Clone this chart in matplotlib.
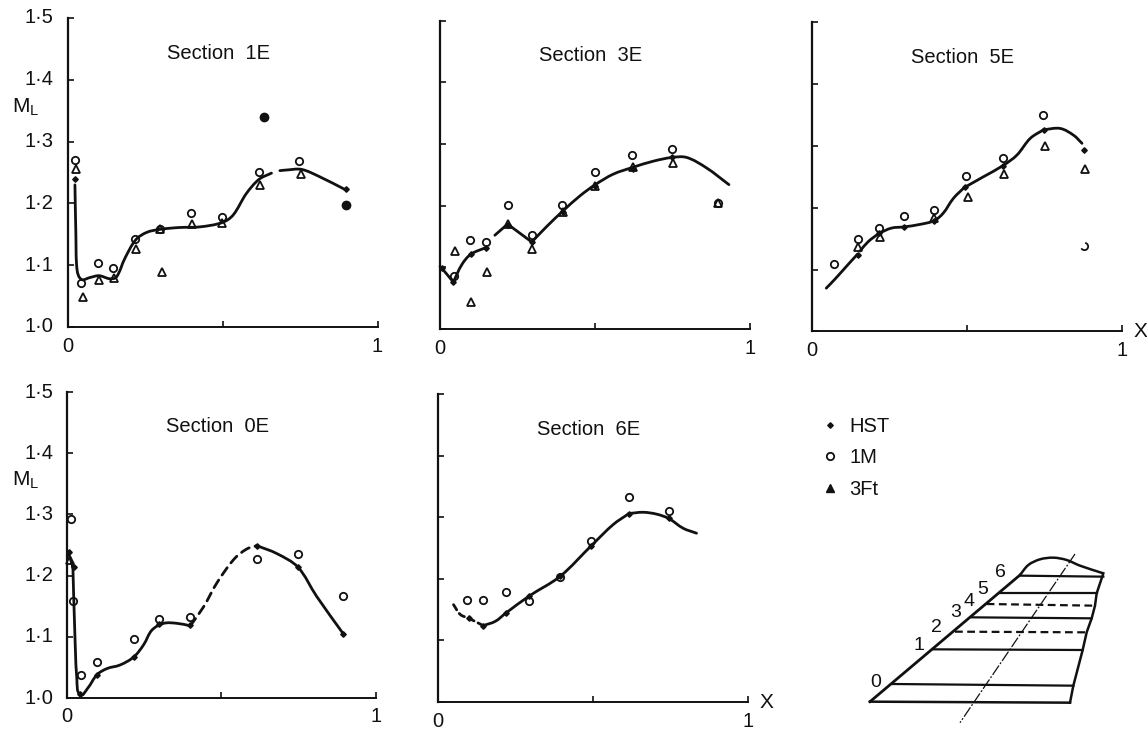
"""
Local Mach number distributions for wing sections, with the section sketch
"""
import numpy as np
import matplotlib.pyplot as plt
from matplotlib.lines import Line2D
from matplotlib.patches import PathPatch
from matplotlib.path import Path

plt.rcParams['font.family'] = ['Liberation Sans', 'DejaVu Sans']
plt.rcParams['mathtext.fontset'] = 'custom'
plt.rcParams['mathtext.rm'] = 'Liberation Sans'
plt.rcParams['mathtext.default'] = 'regular'

W, H = 1147, 732
INK = '#111111'

y_ticks = [1.0, 1.1, 1.2, 1.3, 1.4, 1.5]
y_tick_labels = ['1·0', '1·1', '1·2', '1·3', '1·4', '1·5']

# Section 1E
x_1e_1m = [.024, .045, .097, .147, .218, .298, .398, .499, .618, .748]
y_1e_1m = [1.27, 1.071, 1.104, 1.096, 1.143, 1.158, 1.184, 1.178, 1.251, 1.269]
x_1e_3ft = [.028, .05, .102, .15, .22, .304, .298, .4, .499, .62, .752]
y_1e_3ft = [1.255, 1.049, 1.076, 1.08, 1.127, 1.089, 1.158, 1.166, 1.168, 1.229, 1.248]
x_1e_hst = [.024, .897]
y_1e_hst = [1.24, 1.223]
x_1e_solid = [.634, .897]
y_1e_solid = [1.339, 1.198]
x_1e_curve = [.024, .027, .031, .045, .072, .102, .137, .158, .185, .22, .255, .298,
              .362, .427, .499, .534, .577, .618, .658, None, .685, .706, .755, .814, .897]
y_1e_curve = [1.23, 1.151, 1.092, 1.077, 1.08, 1.083, 1.078, 1.081, 1.111, 1.141, 1.153, 1.158,
              1.161, 1.162, 1.169, 1.181, 1.216, 1.239, 1.249, None, 1.253, 1.254, 1.255, 1.243, 1.222]

# Section 3E
x_3e_1m = [.046, .096, .147, .218, .296, .394, .499, .618, .748, .898]
y_3e_1m = [1.086, 1.145, 1.141, 1.201, 1.152, 1.201, 1.254, 1.282, 1.291, 1.205]
x_3e_3ft = [.049, .101, .153, .218, .298, .398, .501, .622, .753, .898]
y_3e_3ft = [1.126, 1.044, 1.093, 1.17, 1.13, 1.19, 1.232, 1.262, 1.269, 1.205]
x_3e_hst = [.005, .043, .099, .148, .218, .296, .398, .501, .622, .748]
y_3e_hst = [1.099, 1.076, 1.121, 1.132, 1.169, 1.141, 1.19, 1.232, 1.26, 1.278]
x_3e_curve = [0, .005, .043, None, .043, .07, .099, .148, None, .177, .218, None, .218, .296, None, .296,
              .344, .398, .452, .501, .559, .622, .688, .748, .796, .86, .932]
y_3e_curve = [1.101, 1.099, 1.076, None, 1.076, 1.104, 1.121, 1.132, None, 1.152, 1.17, None, 1.17, 1.141, None, 1.141,
              1.166, 1.192, 1.216, 1.234, 1.251, 1.262, 1.272, 1.278, 1.278, 1.261, 1.234]

# Section 5E
x_5e_1m = [.071, .147, .216, .297, .394, .496, .616, .746]
y_5e_1m = [1.109, 1.149, 1.167, 1.187, 1.197, 1.252, 1.28, 1.349]
x_5e_broken = [.879]
y_5e_broken = [1.138]
x_5e_3ft = [.147, .218, .394, .502, .62, .75, .88]
y_5e_3ft = [1.137, 1.152, 1.184, 1.217, 1.255, 1.3, 1.262]
x_5e_hst = [.147, .216, .297, .394, .494, .616, .747, .876]
y_5e_hst = [1.123, 1.159, 1.169, 1.179, 1.234, 1.267, 1.326, 1.294]
x_5e_curve = [.046, .073, .116, .147, None, .155, .181, .216, .256, .297, .348, .394, .423,
              .456, .494, None, .5, .553, .616, .661, .704, .747, None, .747, .801, .844, .871]
y_5e_curve = [1.07, 1.084, 1.108, 1.125, None, 1.13, 1.145, 1.158, 1.167, 1.169, 1.173, 1.179, 1.191,
              1.215, 1.234, None, 1.235, 1.25, 1.268, 1.285, 1.312, 1.326, None, 1.326, 1.328, 1.317, 1.304]

# Section 0E
x_0e_1m = [.013, .019, .044, .097, .216, .298, .397, .614, .747, .894]
y_0e_1m = [1.293, 1.159, 1.038, 1.059, 1.096, 1.129, 1.132, 1.227, 1.235, 1.166]
x_0e_3ft = [.01]
y_0e_3ft = [1.225]
x_0e_hst = [.005, .024, .043, .097, .216, .298, .399, .614, .747, .894]
y_0e_hst = [1.239, 1.214, 1.007, 1.038, 1.067, 1.121, 1.12, 1.249, 1.214, 1.105]
x_0e_curve = [.003, .019, None, .019, .024, .032, .043, .067, .097, .129, .172, .216, .248, .275, .313,
              .356, .399, None, .614, .679, .747, .808, .894]
y_0e_curve = [1.239, 1.215, None, 1.215, 1.128, 1.03, 1.005, 1.016, 1.038, 1.048, 1.054, 1.067, 1.087, 1.111, 1.122,
              1.122, 1.118, None, 1.249, 1.236, 1.214, 1.166, 1.105]
x_0e_dash = [.399, .442, .485, .539, .58, .614]
y_0e_dash = [1.118, 1.149, 1.188, 1.226, 1.243, 1.249]

# Section 6E
x_6e_1m = [.093, .146, .218, .294, .394, .495, .616, .744]
y_6e_1m = [1.165, 1.165, 1.179, 1.164, 1.203, 1.262, 1.333, 1.31]
x_6e_hst = [.099, .146, .218, .294, .394, .495, .616, .744]
y_6e_hst = [1.136, 1.124, 1.144, 1.172, 1.204, 1.254, 1.306, 1.298]
x_6e_curve = [.146, .185, .218, .294, .394, .495, .565, .616, None, .616, .662, .705, .744, .791, .834]
y_6e_curve = [1.124, 1.131, 1.144, 1.172, 1.204, 1.254, 1.288, 1.306, None, 1.306, 1.308, 1.305, 1.298, 1.282, 1.274]
x_6e_dash = [.05, .072, .099, .146]
y_6e_dash = [1.158, 1.142, 1.136, 1.124]

# Wing sketch, in units of its own box
wing_le_x = [270, 720]
wing_le_y = [905, 525]
wing_tip_x = [720, 745, 780, 820, 860, 900, 970]
wing_tip_y = [525, 495, 478, 473, 480, 497, 520]
wing_te_x = [970, 950, 945, 935, 920, 908, 880, 870]
wing_te_y = [520, 580, 617, 655, 697, 750, 857, 908]
wing_root_x = [270, 870]
wing_root_y = [905, 908]
section_start_x = [338, 460, 525, 575, 620, 660, 722]
section_start_y = [852, 748, 695, 652, 612, 580, 527]
section_end_x = [880, 908, 920, 935, 945, 950, 970]
section_end_y = [857, 750, 697, 655, 617, 580, 530]
section_names = ['0', '1', '2', '3', '4', '5', '6']
section_name_x = [288, 417, 470, 527, 567, 607, 660]
section_name_y = [847, 737, 683, 638, 605, 570, 518]
chain_x = [885, 540]
chain_y = [462, 968]


def smooth_path(xs, ys, yscale=2.0):
    # bezier through the points, None starts a new piece
    verts, codes = [], []
    start = 0
    for i in range(len(xs) + 1):
        if i == len(xs) or xs[i] is None:
            if i - start >= 2:
                p = np.array([xs[start:i], ys[start:i]], dtype=float).T
                q = p * [1, yscale]
                d = np.diff(q, axis=0)
                seg = np.hypot(d[:, 0], d[:, 1])
                tan = np.gradient(q, axis=0)
                tan[1:-1] = q[2:] - q[:-2]
                tan = tan / np.hypot(tan[:, 0], tan[:, 1])[:, None]
                verts.append(p[0])
                codes.append(Path.MOVETO)
                for j in range(len(p) - 1):
                    c1 = (q[j] + tan[j] * seg[j] / 3) / [1, yscale]
                    c2 = (q[j + 1] - tan[j + 1] * seg[j] / 3) / [1, yscale]
                    verts.extend([c1, c2, p[j + 1]])
                    codes.extend([Path.CURVE4] * 3)
            start = i + 1
    return Path(verts, codes)


def make_axes(left, right, bottom, top):
    # pixel box -> figure fractions
    ax = fig.add_axes([left / W, 1 - bottom / H, (right - left) / W, (bottom - top) / H])
    ax.set_xlim(0, 1)
    ax.set_ylim(1.0, 1.5)
    ax.patch.set_visible(False)
    for side in ['top', 'right']:
        ax.spines[side].set_visible(False)
    ax.spines['left'].set_linewidth(1.6)
    ax.spines['bottom'].set_linewidth(1.4)
    ax.spines['left'].set_color(INK)
    ax.spines['bottom'].set_color(INK)
    ax.set_xticks([0, 0.5, 1])
    ax.set_yticks(y_ticks)
    ax.tick_params(direction='in', length=4, width=1.2, color=INK, labelcolor=INK,
                   labelleft=False, labelbottom=False)
    return ax


def draw_curve(ax, xs, ys, ls='-'):
    ax.add_patch(PathPatch(smooth_path(xs, ys), fill=False, ec=INK, lw=2.0, ls=ls,
                           capstyle='round', clip_on=False))


def draw_section(ax, title, curve, m1=None, ft3=None, hst=None):
    draw_curve(ax, curve[0], curve[1])
    if hst:
        ax.plot(hst[0], hst[1], ls='none', marker='D', ms=2.8, color=INK, clip_on=False)
    if m1:
        ax.plot(m1[0], m1[1], ls='none', marker='o', ms=5.3, mfc='none', mec=INK, mew=1.3, clip_on=False)
    if ft3:
        ax.plot(ft3[0], ft3[1], ls='none', marker='^', ms=6.2, mfc='none', mec=INK, mew=1.3, clip_on=False)
    ax.text(0.486, 1.443, title, ha='center', va='center', fontsize=14.5, color=INK)


def axis_labels(ax, with_y=False, with_x=False):
    ax.text(0, -0.062, '0', transform=ax.transAxes, ha='center', va='center', fontsize=14.5, color=INK)
    ax.text(1, -0.062, '1', transform=ax.transAxes, ha='center', va='center', fontsize=14.5, color=INK)
    if with_y:
        for val, lab in zip(y_ticks, y_tick_labels):
            ax.text(-0.045, val, lab, transform=ax.get_yaxis_transform(), ha='right', va='center',
                    fontsize=14.5, color=INK)
        ax.text(-0.135, 1.356, 'M$_{L}$', transform=ax.get_yaxis_transform(), ha='center', va='center',
                fontsize=15, color=INK)
    if with_x:
        ax.text(1.06, 0.0, 'X', transform=ax.transAxes, ha='center', va='center', fontsize=15, color=INK)


fig = plt.figure(figsize=(W / 100, H / 100), dpi=100, facecolor='white')

ax_1e = make_axes(67.5, 377.5, 327, 18)
draw_section(ax_1e, 'Section  1E', (x_1e_curve, y_1e_curve), (x_1e_1m, y_1e_1m), (x_1e_3ft, y_1e_3ft), (x_1e_hst, y_1e_hst))
ax_1e.plot(x_1e_solid, y_1e_solid, ls='none', marker='o', ms=6, color=INK, clip_on=False)
axis_labels(ax_1e, with_y=True)

ax_3e = make_axes(440, 750, 329, 20.5)
draw_section(ax_3e, 'Section  3E', (x_3e_curve, y_3e_curve), (x_3e_1m, y_3e_1m), (x_3e_3ft, y_3e_3ft), (x_3e_hst, y_3e_hst))
axis_labels(ax_3e)

ax_5e = make_axes(812, 1122, 331.5, 22)
draw_section(ax_5e, 'Section  5E', (x_5e_curve, y_5e_curve), (x_5e_1m, y_5e_1m), (x_5e_3ft, y_5e_3ft), (x_5e_hst, y_5e_hst))
ax_5e.plot(x_5e_broken, y_5e_broken, ls='none', marker=Path.arc(-150, 80), ms=5.3, mfc='none', mec=INK, mew=1.3, clip_on=False)
axis_labels(ax_5e, with_x=True)

ax_0e = make_axes(67, 376, 698, 392)
draw_section(ax_0e, 'Section  0E', (x_0e_curve, y_0e_curve), (x_0e_1m, y_0e_1m), (x_0e_3ft, y_0e_3ft), (x_0e_hst, y_0e_hst))
draw_curve(ax_0e, x_0e_dash, y_0e_dash, ls=(0, (3.2, 2.2)))
axis_labels(ax_0e, with_y=True)

ax_6e = make_axes(438, 748, 702, 394)
draw_section(ax_6e, 'Section  6E', (x_6e_curve, y_6e_curve), (x_6e_1m, y_6e_1m), None, (x_6e_hst, y_6e_hst))
draw_curve(ax_6e, x_6e_dash, y_6e_dash, ls=(0, (2.2, 1.6)))
axis_labels(ax_6e, with_x=True)

# legend and wing sketch share a box in the lower right corner
ax_w = fig.add_axes([780 / W, 0, 367 / W, 332 / H])
ax_w.set_xlim(0, 1101)
ax_w.set_ylim(996, 0)
ax_w.axis('off')

ax_w.plot(wing_le_x, wing_le_y, color=INK, lw=2.0)
ax_w.add_patch(PathPatch(smooth_path(wing_tip_x, wing_tip_y, yscale=1.0), fill=False, ec=INK, lw=1.8))
ax_w.plot(wing_te_x, wing_te_y, color=INK, lw=1.8)
ax_w.plot(wing_root_x, wing_root_y, color=INK, lw=1.8)
for i in range(len(section_names)):
    style = (0, (3.5, 2)) if section_names[i] in ['2', '4'] else '-'
    ax_w.plot([section_start_x[i], section_end_x[i]], [section_start_y[i], section_end_y[i]],
              color=INK, lw=1.6, ls=style)
    ax_w.text(section_name_x[i], section_name_y[i], section_names[i], ha='center', va='center',
              fontsize=14, color=INK)
ax_w.plot(chain_x, chain_y, color=INK, lw=0.9, ls=(0, (9, 1.5, 1.5, 1.5)))

handles = [
    Line2D([], [], ls='none', marker='D', ms=2.8, color=INK),
    Line2D([], [], ls='none', marker='o', ms=5.3, mfc='none', mec=INK, mew=1.3),
    Line2D([], [], ls='none', marker='^', ms=6.2, mfc=INK, mec=INK),
]
leg = ax_w.legend(handles, ['HST', '1M', '3Ft'], loc='upper left', bbox_to_anchor=(0.11, 0.95),
                  frameon=False, fontsize=14.5, labelspacing=0.62, handlelength=1.0, handletextpad=0.45,
                  borderpad=0, borderaxespad=0)
for t in leg.get_texts():
    t.set_color(INK)

fig.savefig('out.png', dpi=100, facecolor='white')
